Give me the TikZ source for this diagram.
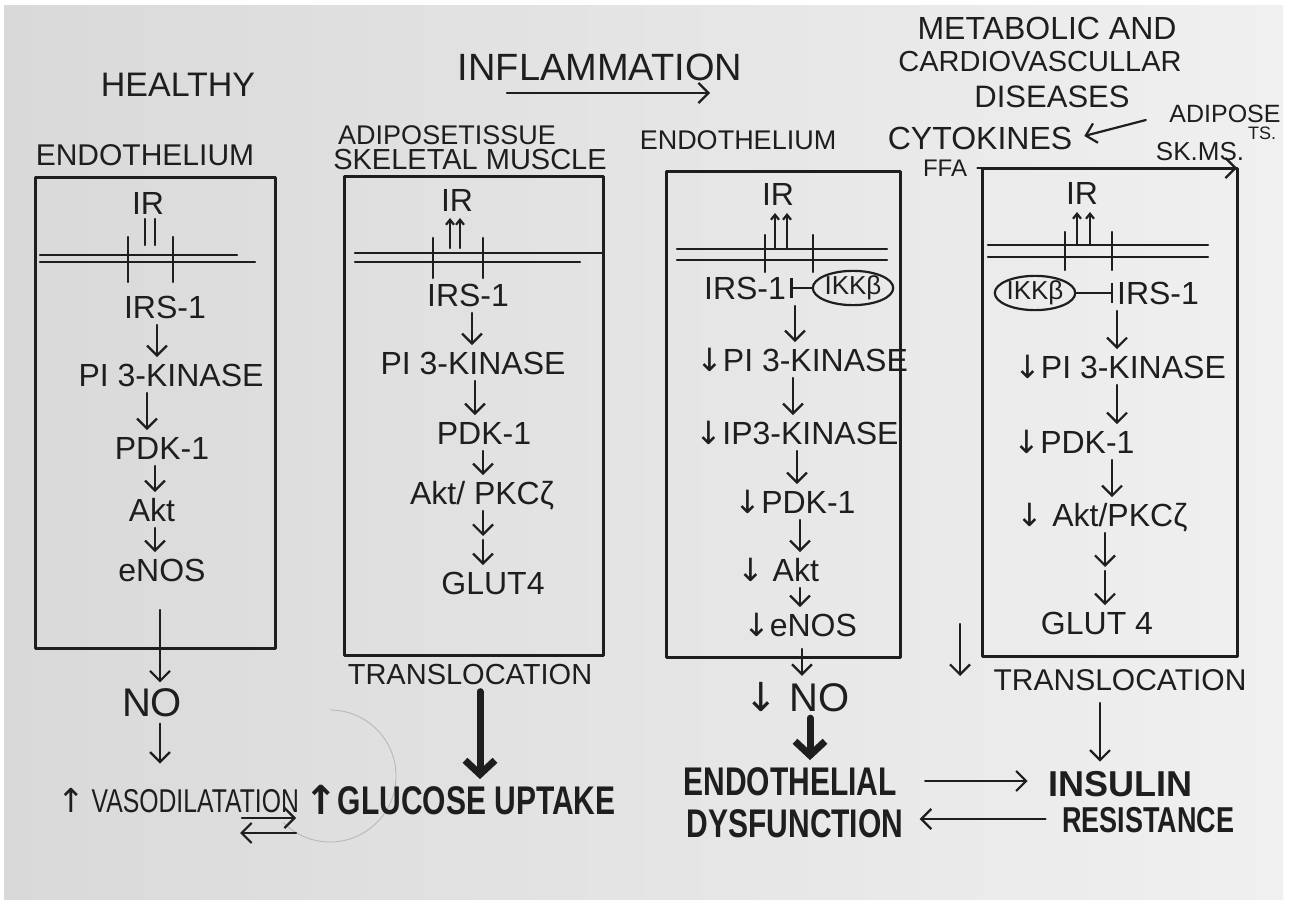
\documentclass[tikz,border=0pt]{standalone}
\usepackage{fontspec}
\setmainfont{Liberation Sans}
\newfontfamily\symf{DejaVu Sans}
\newfontfamily\condf{Liberation Sans}[FakeStretch=0.75]
\usetikzlibrary{arrows.meta,shapes.geometric,calc}
\definecolor{ink}{HTML}{1E1E1E}
\definecolor{paperL}{HTML}{D9D9D9}
\definecolor{paperR}{HTML}{F0F0F0}
\definecolor{faintc}{HTML}{B4B4B4}
\newcommand\dnar{{\symf ↓}}
\newcommand\upar{{\symf ↑}}
\newcommand\vlink[4][arr]{\path (#2,0) coordinate (vlx); \draw[#1] (#3.south -| vlx) -- (#4.north -| vlx);}
\newcommand\vdouble[3]{\path (#1,0) coordinate (vlx); \coordinate (vla) at (#2.south -| vlx); \coordinate (vlb) at (#3.north -| vlx); \draw[arr] (vla) -- ($(vla)!0.5!(vlb)$); \draw[arr] ($(vla)!0.5!(vlb)$) -- (vlb);}
\begin{document}
\begin{tikzpicture}[x=0.5pt,y=-0.5pt, line cap=round, line join=round,
  every node/.style={text=ink, inner sep=2pt},
  lbl/.style={font=\fontsize{16}{18}\selectfont, text height=11.5pt, text depth=0pt},
  head/.style={font=\fontsize{#1}{#1}\selectfont},
  boldt/.style={font=\condf\bfseries\fontsize{20}{22}\selectfont, text height=14.5pt, text depth=0pt},
  insult/.style={font=\bfseries\fontsize{18}{18}\selectfont, text height=13pt, text depth=0pt, inner sep=0pt},
  rest/.style={font=\condf\bfseries\fontsize{18}{18}\selectfont, text height=13pt, text depth=0pt, inner sep=0pt},
  vasot/.style={font=\condf\fontsize{16.5}{18}\selectfont, text height=12pt, text depth=0pt},
  boxl/.style={draw=ink, line width=1.5pt},
  mem/.style={draw=ink, line width=1.1pt},
  rec/.style={draw=ink, line width=1.2pt},
  recar/.style={draw=ink, line width=1.1pt, -{Straight Barb[length=2.5pt,width=4pt]}},
  arr/.style={draw=ink, line width=1.1pt, shorten >=1pt, shorten <=1pt, -{Straight Barb[length=5pt,width=10pt]}},
  bigarr/.style={draw=ink, line width=3.5pt, shorten >=1pt, shorten <=1pt, -{Straight Barb[length=7pt,width=15pt]}},
  inh/.style={draw=ink, line width=1.1pt, -{Bar[width=10pt]}},
  ikk/.style={ellipse, draw=ink, line width=1.1pt, font=\fontsize{13}{13}\selectfont, minimum width=40pt, minimum height=16pt, inner sep=0pt},
  faint/.style={draw=faintc, line width=0.4pt}
]
\useasboundingbox (0,0) rectangle (1290,908);
\fill[white] (0,0) rectangle (1290,908);
\shade[left color=paperL, right color=paperR] (4,6) rectangle (1283,899);

% stray compass mark
\draw[faint] (330,710) arc[start angle=-90, end angle=135, radius=66];

% headings
\node[head=17] (healthy) at (178,85) {HEALTHY};
\node[head=19] (infl) at (600,67) {INFLAMMATION};
\coordinate (inflA) at (505,93); \coordinate (inflB) at (712,93);
\draw[arr] (inflA) -- (inflB);
\node[head=16, inner sep=0pt] (met1) at (1047,28) {METABOLIC AND};
\node[head=14.5, inner sep=0pt] (met2) at (1040,62) {CARDIOVASCULLAR};
\node[head=15.5, inner sep=0pt] (met3) at (1052,97) {DISEASES};

% column titles
\node[head=15] (endo1) at (145,155) {ENDOTHELIUM};
\node[head=13.5] (adip2) at (447,135) {ADIPOSETISSUE};
\node[head=14.5] (skel2) at (470,160) {SKELETAL MUSCLE};
\node[head=13.5] (endo3) at (738,140) {ENDOTHELIUM};
\node[head=16] (cyto) at (980,138) {CYTOKINES};
\node[head=12] (ffa) at (945,168) {FFA};
\node[head=12.5, inner sep=0pt] (adipose) at (1225,114) {ADIPOSE};
\node[head=9, inner sep=0pt] (ts) at (1262,133) {TS.};
\node[head=13, inner sep=0pt] (skms) at (1200,152) {SK.MS.};
\draw[arr, shorten <=12pt, shorten >=4pt] (adipose.west) -- (cyto.east);

% boxes
\draw[boxl] (35,178) rectangle (275,648);
\draw[boxl] (344,177) rectangle (603,655);
\draw[boxl] (666,172) rectangle (900,657);
\draw[boxl] (982,169) rectangle (1237,656);
\coordinate (b4tr) at (1237,169);
\draw[arr, shorten <=3pt, shorten >=0pt] (ffa.east) -- (ffa.east -| b4tr);

% ---- box 1: healthy endothelium
\node[lbl] (ir1) at (148,203) {IR};
\draw[mem] (40,255) -- (237,255);
\draw[mem] (40,262) -- (255,262);
\draw[rec] (128,237) -- (128,282);
\draw[rec] (173,237) -- (173,282);
\draw[rec] (145,219) -- (145,245);
\draw[rec] (155,219) -- (155,245);
\node[lbl] (irs1) at (165,307) {IRS-1};
\node[lbl] (pi1) at (171,375) {PI 3-KINASE};
\node[lbl] (pdk1) at (162,448) {PDK-1};
\node[lbl] (akt1) at (152,510) {Akt};
\node[lbl] (enos1) at (162,570) {eNOS};
\node[head=20] (no1) at (152,703) {NO};
\node[vasot] (vaso) at (178,800) {\upar\ VASODILATATION};
\vlink{157}{irs1}{pi1}
\vlink{147}{pi1}{pdk1}
\vlink{155}{pdk1}{akt1}
\vlink{155}{akt1}{enos1}
\vlink[arr, shorten <=12pt]{160}{enos1}{no1}
\vlink[arr, shorten >=10pt]{160}{no1}{vaso}

% ---- box 2: adipose tissue / skeletal muscle
\node[lbl] (ir2) at (457,200) {IR};
\draw[mem] (355,253) -- (603,253);
\draw[mem] (355,262) -- (580,262);
\draw[rec] (433,238) -- (433,278);
\draw[rec] (483,238) -- (483,278);
\draw[recar] (450,248) -- (450,218);
\draw[recar] (460,248) -- (460,218);
\node[lbl] (irs2) at (468,295) {IRS-1};
\node[lbl] (pi2) at (473,363) {PI 3-KINASE};
\node[lbl] (pdk2) at (484,433) {PDK-1};
\node[lbl] (akt2) at (482,493) {Akt/ PKCζ};
\node[lbl] (glut2) at (493,583) {GLUT4};
\vlink{472}{irs2}{pi2}
\vlink{475}{pi2}{pdk2}
\vlink{483}{pdk2}{akt2}
\vdouble{483}{akt2}{glut2}
\node[head=14.5] (trans2) at (470,675) {TRANSLOCATION};
\node[boldt] (gluc) at (460,800) {{\symf\bfseries ↑}GLUCOSE UPTAKE};
\vlink[bigarr]{480}{trans2}{gluc}

% mutual arrows
\coordinate (dA1) at (240,818); \coordinate (dB1) at (298,818);
\coordinate (dA2) at (298,833); \coordinate (dB2) at (238,833);
\draw[arr] (dA1) -- (dB1);
\draw[arr] (dA2) -- (dB2);

% ---- box 3: inflamed endothelium
\node[lbl] (ir3) at (778,194) {IR};
\draw[mem] (677,249) -- (887,249);
\draw[mem] (677,260) -- (887,260);
\draw[rec] (765,235) -- (765,272);
\draw[rec] (813,235) -- (813,272);
\draw[recar] (775,249) -- (775,213);
\draw[recar] (787,249) -- (787,213);
\node[lbl] (irs3) at (745,288) {IRS-1};
\node[ikk] (ikk3) at (853,288) {IKKβ};
\draw[inh] (ikk3.west) -- (irs3.east);
\node[lbl] (pi3) at (802,360) {\dnar PI 3-KINASE};
\node[lbl] (ip3) at (797,433) {\dnar IP3-KINASE};
\node[lbl] (pdk3) at (795,502) {\dnar PDK-1};
\node[lbl] (akt3) at (778,570) {\dnar\ Akt};
\node[lbl] (enos3) at (800,625) {\dnar eNOS};
\node[head=20] (no3) at (797,697) {\dnar\ NO};
\node[boldt] (endoth) at (790,781) {ENDOTHELIAL};
\node[boldt] (dysf) at (795,823) {DYSFUNCTION};
\vlink{795}{irs3}{pi3}
\vlink{793}{pi3}{ip3}
\vlink{797}{ip3}{pdk3}
\vlink{800}{pdk3}{akt3}
\vlink{800}{akt3}{enos3}
\vlink[arr, shorten <=4pt]{802}{enos3}{no3}
\vlink[bigarr]{810}{no3}{endoth}

% arrow between boxes 3 and 4
\coordinate (midA) at (960,622); \coordinate (midB) at (960,678);
\draw[arr] (midA) -- (midB);

% ---- box 4: inflamed adipose tissue / muscle
\node[lbl] (ir4) at (1082,193) {IR};
\draw[mem] (988,245) -- (1208,245);
\draw[mem] (988,257) -- (1208,257);
\draw[rec] (1065,232) -- (1065,270);
\draw[rec] (1112,232) -- (1112,270);
\draw[recar] (1077,245) -- (1077,212);
\draw[recar] (1090,245) -- (1090,212);
\node[ikk] (ikk4) at (1035,293) {IKKβ};
\node[lbl] (irs4) at (1158,293) {IRS-1};
\draw[inh] (ikk4.east) -- (irs4.west);
\node[lbl] (pi4) at (1120,367) {\dnar PI 3-KINASE};
\node[lbl] (pdk4) at (1074,442) {\dnar PDK-1};
\node[lbl] (akt4) at (1102,515) {\dnar\ Akt/PKCζ};
\node[lbl] (glut4) at (1097,623) {GLUT 4};
\vlink{1117}{irs4}{pi4}
\vlink{1117}{pi4}{pdk4}
\vlink{1112}{pdk4}{akt4}
\vdouble{1105}{akt4}{glut4}
\node[head=15] (trans4) at (1120,680) {TRANSLOCATION};
\node[insult] (ins) at (1120,783) {INSULIN};
\node[rest] (res) at (1148,819) {RESISTANCE};
\vlink[arr, shorten <=4pt, shorten >=4pt]{1100}{trans4}{ins}

% feedback between dysfunction and resistance
\draw[arr, shorten <=12pt, shorten >=10pt] (endoth.east) -- (endoth.east -| ins.west);
\draw[arr, shorten <=8pt, shorten >=6pt] (res.west) -- (res.west -| dysf.east);
\end{tikzpicture}
\end{document}
